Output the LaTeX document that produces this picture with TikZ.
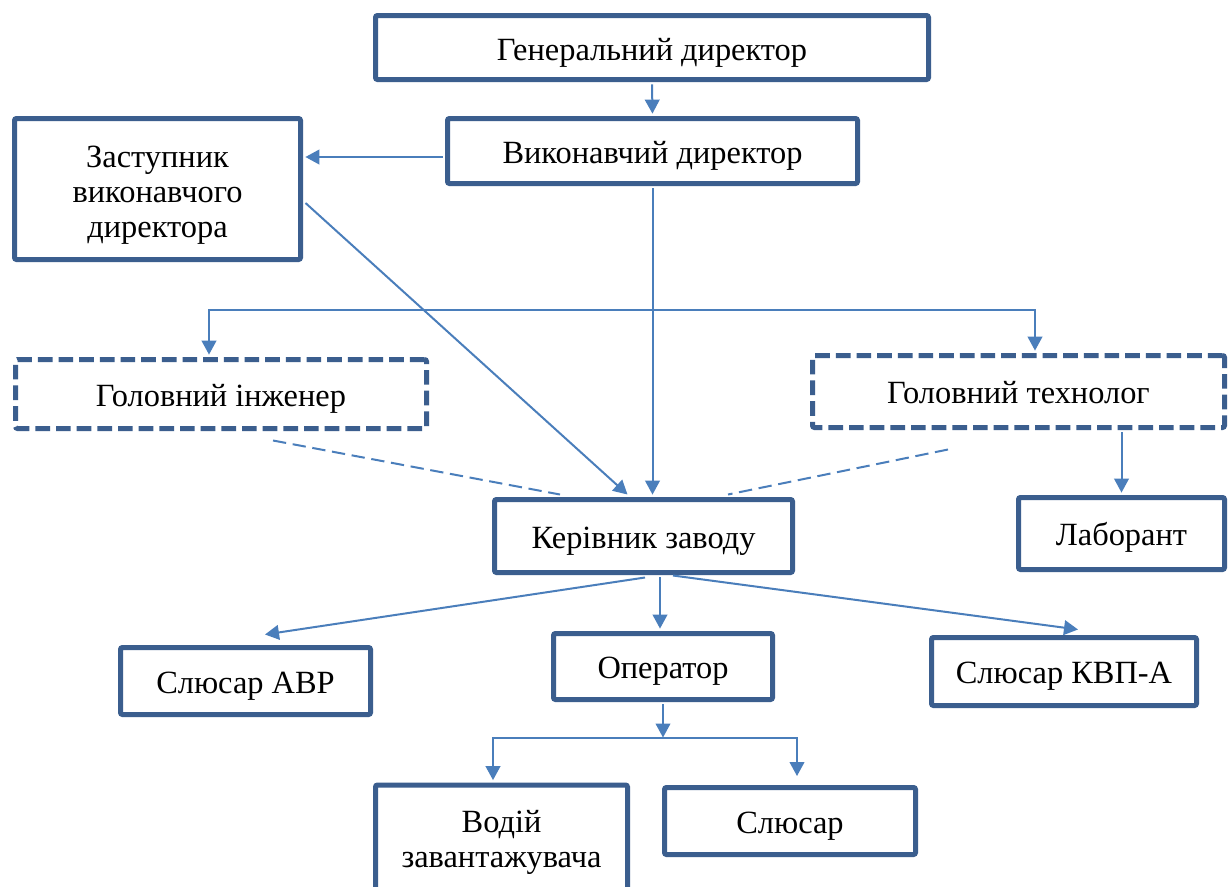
\documentclass[tikz,border=0pt]{standalone}
\usepackage{fontspec}
\setmainfont{Liberation Serif}
\usetikzlibrary{arrows.meta,calc}
\definecolor{bord}{RGB}{59,94,142}
\definecolor{lin}{RGB}{74,126,187}
\begin{document}
\begin{tikzpicture}[x=0.75pt,y=-0.75pt,
  bx/.style 2 args={draw=bord,line width=3.75pt,rounded corners=1.5pt,fill=white,
    minimum width=#1*0.75pt,minimum height=#2*0.75pt,inner sep=0pt,align=center,
    text height=20pt,text depth=2pt,
    font=\fontsize{24.3}{26.3}\selectfont},
  txt/.style={inner sep=0pt,align=center,font=\fontsize{24.3}{26.3}\selectfont},
  dbx/.style={dash pattern=on 11pt off 4.5pt},
  arr/.style={draw=lin,line width=1.5pt,-{Triangle[length=10.5pt,width=11pt]},
    shorten >=1.8pt, shorten <=1.8pt},
  dl/.style={draw=lin,line width=1.5pt,dash pattern=on 10pt off 5pt}]
\useasboundingbox (0,0) rectangle (1232,886);
\fill[white] (0,0) rectangle (1232,886);
\node[bx={553}{64},text height=21.5pt,text depth=1.5pt] (gen) at (652,47.5) {Генеральний директор};
\node[bx={410}{65}] (vyk) at (652.5,151) {Виконавчий директор};
\node[bx={286}{141}] (zast) at (157.5,189) {};
\node[txt] (zastT) at ($(zast.center)+(0,6)$) {Заступник\\виконавчого\\директора};
\node[bx={411}{69},dbx] (inzh) at (221,394) {Головний інженер};
\node[bx={412}{72},dbx] (tekh) at (1018.5,391.5) {Головний технолог};
\node[bx={298}{73}] (ker) at (643.5,536) {Керівник заводу};
\node[bx={206}{72}] (lab) at (1121.5,533.5) {Лаборант};
\node[bx={250}{67}] (abp) at (245.5,681) {Слюсар АВР};
\node[bx={219}{66}] (oper) at (663,666.5) {Оператор};
\node[bx={265}{68}] (kvp) at (1064,671.5) {Слюсар КВП-А};
\node[bx={252}{115}] (vod) at (501.5,842.5) {};
\node[txt] (vodT) at (501.5,842) {Водій\\завантажувача};
\node[bx={251}{67}] (sl) at (790,821) {Слюсар};
% connectors
\draw[arr] (gen.south) -- (vyk.north);
\draw[arr] ($(vyk.west)+(0,6)$) -- ($(zast.east)+(0,-32)$);
\draw[draw=lin,line width=1.5pt,-{Triangle[length=10.5pt,width=11pt]}] ($(zast.east)+(2.5,14)$) -- ($(ker.north)+(-16,-2.5)$);
\draw[arr] (vyk.south) -- (vyk.south |- ker.north);
\coordinate (j1) at (652.5,310);
\coordinate (ia) at ($(inzh.north)+(-12,0)$);
\coordinate (ta) at ($(tekh.north)+(16.5,0)$);
\draw[arr,shorten <=0pt] (j1) -| (ia);
\draw[arr,shorten <=0pt] (j1) -| (ta);
\draw[dl] ($(inzh.south)+(52,9.5)$) -- ($(ker.north)+(-83.5,-2.5)$);
\draw[dl] ($(tekh.south)+(-70.5,19.5)$) -- ($(ker.north)+(84.5,-2.5)$);
\draw[arr] (lab.north |- tekh.south) -- (lab.north);
\draw[draw=lin,line width=1.5pt,-{Triangle[length=10.5pt,width=11pt]}] ($(ker.south)+(1.5,2.5)$) -- ($(abp.north)+(19.5,-10.5)$);
\draw[arr] ($(ker.south)+(16.5,0)$) -- ($(oper.north)+(-3,0)$);
\draw[draw=lin,line width=1.5pt,-{Triangle[length=10.5pt,width=11pt]}] ($(ker.south)+(29.5,0.5)$) -- ($(kvp.north)+(14,-5.5)$);
\coordinate (j2) at ($(oper.south)+(0,35.5)$);
\draw[arr,shorten >=0pt] (oper.south) -- (j2);
\coordinate (va) at ($(vod.north)+(-8.5,0)$);
\coordinate (sa) at ($(sl.north)+(7,-9)$);
\draw[arr,shorten <=0pt] (j2) -| (va);
\draw[arr,shorten <=0pt,shorten >=0pt] (j2) -| (sa);
\end{tikzpicture}
\end{document}
